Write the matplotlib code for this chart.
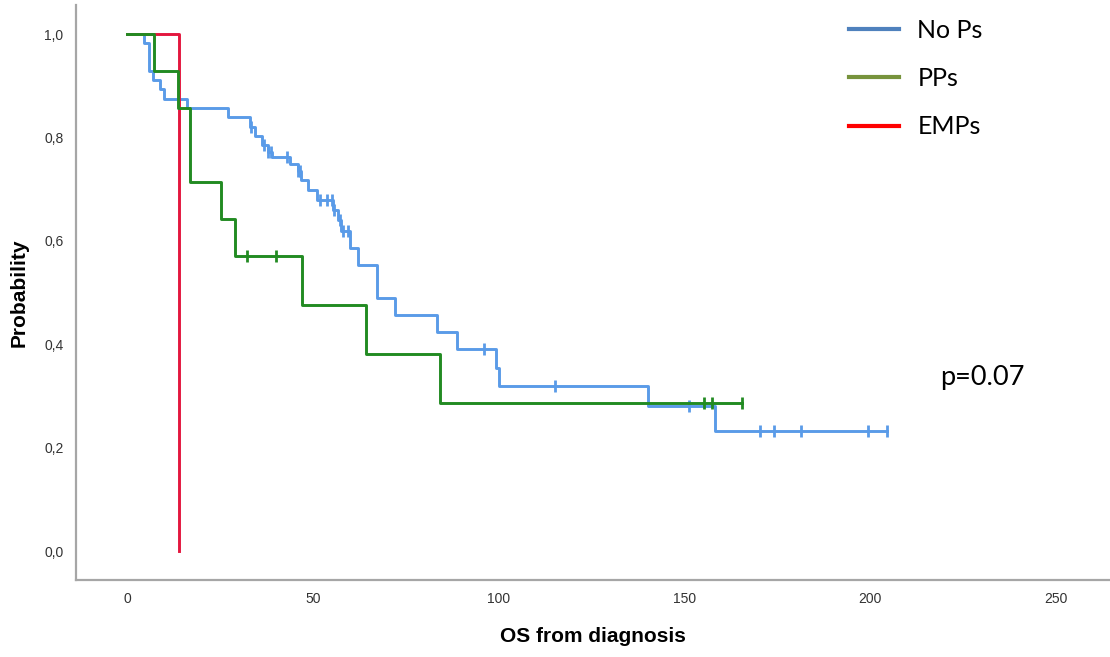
import matplotlib.pyplot as plt
from matplotlib.lines import Line2D
import numpy as np

# Kaplan-Meier step values (time, survival after the step)
nops_times = [4.7, 5.9, 7.1, 8.9, 10.0, 16.1, 27.3, 33.1, 34.5, 36.3, 38.0, 39.0,
              43.9, 46.0, 46.8, 48.8, 51.2, 55.5, 56.8, 57.6, 60.0, 62.2, 67.4,
              72.1, 83.3, 88.9, 99.2, 100.1, 140.3, 158.2]
nops_surv = [0.982, 0.929, 0.911, 0.893, 0.875, 0.857, 0.839, 0.821, 0.803, 0.785,
             0.772, 0.762, 0.748, 0.735, 0.718, 0.698, 0.679, 0.660, 0.640, 0.620,
             0.586, 0.553, 0.489, 0.456, 0.424, 0.390, 0.355, 0.319, 0.280, 0.232]
nops_censor = [33.5, 37.0, 38.0, 38.8, 43.1, 46.1, 46.6, 51.9, 53.7, 55.1, 55.8,
               57.4, 58.0, 59.6, 96.2, 115.2, 151.2, 170.3, 174.2, 181.3, 199.3, 204.4]
nops_end = 204.4

pps_times = [7.3, 13.8, 16.9, 25.2, 29.1, 47.2, 64.2, 84.2]
pps_surv = [0.929, 0.857, 0.714, 0.643, 0.571, 0.476, 0.381, 0.286]
pps_censor = [32.2, 40.1, 155.3, 157.3, 165.6]
pps_end = 165.6

emps_times = [14.1]
emps_surv = [0.0]

legend_labels = ["No Ps", "PPs", "EMPs"]
legend_colors = ["#4f81bd", "#77933c", "#ff0000"]
yticks = [0.0, 0.2, 0.4, 0.6, 0.8, 1.0]
xticks = [0, 50, 100, 150, 200, 250]


def km_steps(times, surv, end=None):
    x = [0] + list(times)
    y = [1.0] + list(surv)
    if end is not None:
        x.append(end)
        y.append(y[-1])
    return np.array(x), np.array(y)


def surv_at(t, times, surv):
    s = 1.0
    for ti, si in zip(times, surv):
        if ti <= t:
            s = si
    return s


plt.rcParams["font.family"] = ["Liberation Sans", "DejaVu Sans"]

fig = plt.figure(figsize=(11.1, 6.57), dpi=100)
ax = fig.add_axes([0.0685, 0.1172, 0.9315, 0.875])

blue = "#5a9be8"
green = "#228b22"
red = "#e3173e"

x, y = km_steps(nops_times, nops_surv, nops_end)
ax.step(x, y, where="post", color=blue, lw=2.1, zorder=2)
ax.plot(nops_censor, [surv_at(t, nops_times, nops_surv) for t in nops_censor],
        ls="none", marker="|", ms=8, mew=2.0, color=blue, zorder=2)

x, y = km_steps(emps_times, emps_surv)
ax.step(x, y, where="post", color=red, lw=2.1, zorder=3)

x, y = km_steps(pps_times, pps_surv, pps_end)
ax.step(x, y, where="post", color=green, lw=2.1, zorder=4)
ax.plot(pps_censor, [surv_at(t, pps_times, pps_surv) for t in pps_censor],
        ls="none", marker="|", ms=8, mew=2.0, color=green, zorder=4)

ax.set_xlim(-13.7, 264.5)
ax.set_ylim(-0.056, 1.056)
ax.set_xticks(xticks)
ax.set_yticks(yticks)
ax.set_yticklabels([f"{v:.1f}".replace(".", ",") for v in yticks])
ax.tick_params(length=0, labelsize=10, labelcolor="#333333")
ax.tick_params(axis="y", pad=9)
ax.tick_params(axis="x", pad=9)
for s in ["top", "right"]:
    ax.spines[s].set_visible(False)
for s in ["left", "bottom"]:
    ax.spines[s].set_color("#a6a6a6")
    ax.spines[s].set_linewidth(1.6)

ax.set_xlabel("OS from diagnosis", fontsize=15, fontweight="bold", labelpad=15)
ax.set_ylabel("Probability", fontsize=15, fontweight="bold", labelpad=11)

handles = [Line2D([], [], color=c, lw=3) for c in legend_colors]
fig.legend(handles, legend_labels, loc="upper left", frameon=False,
           bbox_to_anchor=(836 / 1110, 1 - 6 / 657), borderpad=0,
           prop={"family": "Lato", "size": 18}, handlelength=2.0,
           handletextpad=0.75, labelspacing=1.02)

fig.text(940 / 1110, 1 - 378 / 657, "p=0.07", fontsize=19.5, family="Lato",
         va="center", ha="left")

fig.savefig("out.png", dpi=100)
